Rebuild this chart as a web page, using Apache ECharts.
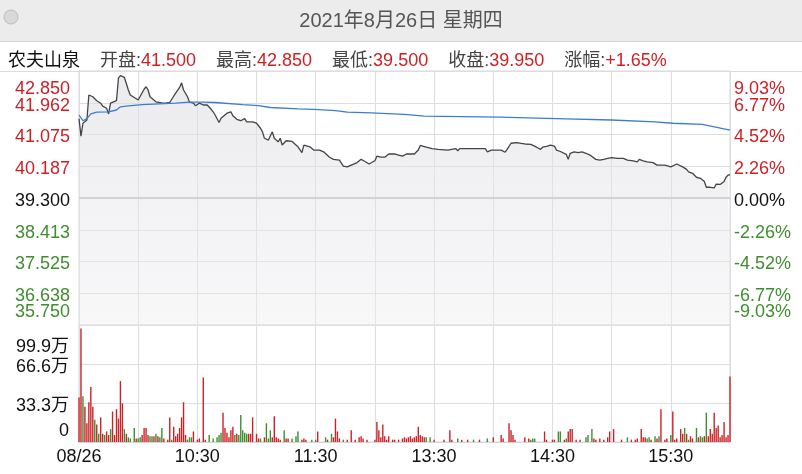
<!DOCTYPE html>
<html><head><meta charset="utf-8">
<script src="https://cdn.jsdelivr.net/npm/echarts@6/dist/echarts.min.js"></script>
<style>html,body{margin:0;padding:0;background:#fff}#c{width:802px;height:474px}</style>
</head><body><div id="c"></div>
<script>
// ---------- data ----------
const titleText = '2021年8月26日 星期四';
const stockName = '农夫山泉';
const infoLabels = ['开盘', '最高', '最低', '收盘', '涨幅'];
const infoValues = ['41.500', '42.850', '39.500', '39.950', '+1.65%'];

const xTickMinutes = [0, 60, 120, 180, 240, 300];
const xTickLabels = ['08/26', '10:30', '11:30', '13:30', '14:30', '15:30'];

const basePrice = 39.3;
const priceMin = 35.75;
const priceMax = 42.85;
const priceTickLabels = ['35.750', '36.638', '37.525', '38.413', '39.300', '40.187', '41.075', '41.962', '42.850'];
const pctTickLabels = ['-9.03%', '-6.77%', '-4.52%', '-2.26%', '0.00%', '2.26%', '4.52%', '6.77%', '9.03%'];
const volTickLabels = ['0', '33.3万', '66.6万', '99.9万'];
const volMax = 99.9;

// minutes since 09:30 (lunch break removed)
const priceMinutes = [0,1,2,4,5,6,7,9,10,11,12,13,14,15,16,17,19,20,21,22,23,24,25,26,28,30,31,33,34,35,36,37,39,40,42,43,44,45,46,47,49,51,52,53,55,56,58,59,61,63,64,65,67,68,69,71,72,73,75,77,78,79,80,81,82,84,85,86,88,90,92,93,94,96,97,98,99,101,102,103,105,106,108,109,111,113,114,115,117,119,120,122,124,125,127,129,130,132,134,136,138,139,141,143,145,147,148,150,151,153,155,157,160,162,164,166,170,172,173,174,176,179,182,183,187,188,191,192,193,206,207,209,214,216,217,219,220,222,223,224,226,227,229,230,232,234,235,237,239,241,242,244,245,247,248,249,251,253,255,257,259,260,262,264,265,266,268,269,270,273,274,276,278,279,281,283,284,286,288,289,291,293,294,295,297,300,301,303,304,306,308,309,311,313,314,315,317,318,319,320,322,323,324,325,327,328,329,330];
const priceValues = [41.52,41.03,41.39,41.48,42.18,42.21,42.13,42.02,42.00,41.95,41.87,41.92,41.81,41.65,41.95,41.99,42.02,42.65,42.72,42.70,42.67,42.50,42.32,42.18,42.11,42.04,42.09,42.34,42.41,42.32,42.13,42.10,41.99,42.02,41.96,41.97,41.95,42.00,41.97,42.06,42.23,42.39,42.52,42.32,42.13,41.98,41.95,41.88,41.95,41.90,41.85,41.90,41.78,41.71,41.62,41.41,41.53,41.50,41.67,41.71,41.60,41.62,41.50,41.53,41.46,41.52,41.43,41.46,41.43,41.39,41.25,41.15,40.97,40.92,40.90,41.15,40.97,40.87,40.97,40.78,40.90,40.92,40.88,40.83,40.73,40.57,40.78,40.75,40.73,40.64,40.63,40.64,40.59,40.55,40.44,40.38,40.43,40.36,40.19,40.17,40.22,40.20,40.29,40.38,40.32,40.25,40.22,40.34,40.47,40.44,40.44,40.53,40.53,40.50,40.47,40.53,40.53,40.64,40.77,40.74,40.72,40.68,40.66,40.64,40.64,40.68,40.68,40.62,40.68,40.68,40.59,40.64,40.64,40.58,40.66,40.83,40.80,40.85,40.80,40.83,40.81,40.85,40.80,40.83,40.72,40.66,40.72,40.74,40.78,40.75,40.64,40.60,40.62,40.52,40.38,40.55,40.59,40.57,40.59,40.55,40.50,40.48,40.38,40.36,40.34,40.38,40.41,40.38,40.43,40.41,40.36,40.41,40.36,40.38,40.34,40.31,40.38,40.34,40.31,40.34,40.29,40.22,40.26,40.22,40.22,40.17,40.22,40.25,40.27,40.17,40.10,40.03,39.99,39.88,39.92,39.85,39.76,39.60,39.57,39.60,39.58,39.69,39.66,39.68,39.76,39.88,39.94,39.95];

const avgMinutes = [0,2,4,6,9,15,19,21,24,32,49,56,63,69,83,91,97,111,119,130,136,148,165,175,213,247,270,292,301,316,330];
const avgValues = [41.62,41.46,41.52,41.65,41.70,41.71,41.76,41.85,41.87,41.91,41.95,41.98,41.98,41.97,41.91,41.88,41.83,41.79,41.78,41.74,41.70,41.68,41.64,41.59,41.56,41.51,41.48,41.43,41.39,41.36,41.20];

// volume in 万 shares; up: 1 = red, 0 = green
const volMinutes = [0,1,2,3,4,5,6,7,8,9,10,11,12,13,14,15,16,17,18,19,20,21,22,23,24,25,26,28,29,30,31,32,33,34,35,36,37,38,39,40,41,42,43,45,46,47,48,49,50,51,52,53,54,55,56,57,58,60,61,63,64,66,68,70,71,72,73,74,75,76,77,78,79,80,81,82,83,84,85,86,87,88,90,91,92,94,95,96,97,98,99,100,101,102,104,105,106,108,110,111,113,114,115,118,120,121,125,126,128,129,130,131,132,134,136,138,140,142,143,144,146,150,151,152,153,154,155,156,157,159,160,162,164,165,166,167,168,169,170,171,172,173,174,175,176,178,180,185,188,189,192,194,197,200,203,207,210,214,215,218,219,220,221,226,228,229,230,231,236,237,240,241,243,244,246,247,248,249,250,252,254,257,258,260,261,262,264,266,268,269,271,275,278,280,282,283,285,286,287,288,289,290,292,293,294,295,297,298,300,301,302,303,305,306,307,308,309,310,311,313,314,315,316,317,318,319,320,321,322,323,324,325,326,327,328,329,330];
const volValues = [38,97,39,30,16,34,47,30,19,15,7,21,7,6,9,6,11,26,6,28,20,52,33,11,7,4,3,12,3,3,4,6,12,12,6,5,5,5,7,5,4,12,3,2,21,2,13,5,7,12,21,34,6,2,4,4,9,2,3,55,2,6,3,4,6,8,25,12,8,4,10,13,6,7,6,23,10,8,7,7,7,21,7,3,3,4,16,3,10,4,22,4,3,2,10,3,3,3,5,9,2,3,2,2,2,9,4,2,7,4,20,9,3,2,2,10,2,4,5,3,2,2,17,10,4,15,5,2,5,2,2,2,3,4,3,4,5,3,4,5,13,6,5,4,4,4,2,2,10,2,3,2,2,2,2,3,4,6,3,16,10,6,2,4,3,2,3,3,9,2,2,2,9,9,2,3,9,11,11,2,2,4,6,11,3,2,3,2,4,9,11,2,4,2,2,3,11,4,4,3,4,2,5,3,5,28,2,3,6,26,2,3,11,7,12,7,2,5,3,12,4,5,4,5,25,5,11,7,25,12,14,4,6,17,4,6,56];
const volUp = [1,1,0,1,1,1,1,1,0,1,0,1,1,0,1,1,0,1,1,1,1,1,1,0,1,0,0,0,1,0,0,1,1,1,1,0,0,1,0,1,0,0,1,1,1,0,1,1,1,1,1,1,1,0,0,0,1,1,1,1,1,0,0,0,0,0,1,1,1,1,1,1,0,1,0,0,0,0,0,1,1,1,1,1,0,1,0,0,0,1,1,1,1,1,0,1,1,0,0,0,1,1,1,0,0,1,0,1,0,1,1,1,1,0,1,1,1,1,1,1,1,1,1,1,1,1,1,1,1,1,1,1,1,1,1,1,1,1,1,1,1,1,1,1,0,0,1,1,1,1,0,1,1,0,1,0,1,1,1,1,1,1,1,1,1,0,0,0,1,1,1,1,0,0,1,0,1,1,1,1,1,0,0,0,1,1,1,1,1,1,1,1,0,1,1,1,1,1,1,0,0,1,0,1,0,1,1,1,0,1,1,1,1,1,0,1,0,1,1,0,1,0,0,1,0,1,1,1,1,1,1,1,1,1,1,1,1];

// ---------- chart ----------
const RED = '#cc2226', GREEN = '#3e8e2e', FONT = '"Liberation Sans","Noto Sans CJK SC",sans-serif';
const zip = (a, b) => a.map((v, i) => [v, b[i]]);
const gridColor = '#dcdce1';

let info = `{n|${stockName}}`;
infoLabels.forEach((l, i) => { info += `{l|${l}:}{v|${infoValues[i]}}`; });

// middle labels (no extremes) and extreme labels (only first/last) on separate overlaid axes
function midLabel(arr) {
  return v => {
    const i = Math.round(v);
    if (i <= 0 || i >= arr.length - 1) return '';
    return `{${i > 4 ? 'r' : (i < 4 ? 'g' : 'k')}|${arr[i]}}`;
  };
}
function endLabel(arr) {
  return v => {
    const i = Math.round(v);
    if (i === arr.length - 1) return `{topR|${arr[i]}}`;
    if (i === 0) return `{botG|${arr[i]}}`;
    return '';
  };
}
const base = { fontSize: 18, fontFamily: FONT, fontWeight: 'normal' };
const richP = {
  r: { ...base, color: RED, padding: [6, 0, 0, 0] },
  g: { ...base, color: GREEN, padding: [6, 0, 0, 0] },
  k: { ...base, color: '#111', padding: [6, 0, 0, 0] },
  topR: { ...base, color: RED, padding: [36, 0, 0, 0] },
  botG: { ...base, color: GREEN, padding: [0, 0, 26, 0] }
};
function labelAxis(arr, position, margin, mid) {
  return { type: 'value', gridIndex: 0, min: 0, max: arr.length - 1, interval: 1, position: position, offset: 0,
    axisLine: { show: false }, axisTick: { show: false },
    axisLabel: { margin: margin, showMinLabel: true, showMaxLabel: true, hideOverlap: false,
      formatter: mid ? midLabel(arr) : endLabel(arr), rich: richP },
    splitLine: { show: mid && position === 'left', lineStyle: { color: gridColor, width: 1 } } };
}

const chart = echarts.init(document.getElementById('c'), null, { renderer: 'canvas' });
chart.setOption({
  animation: false,
  backgroundColor: '#ffffff',
  graphic: [
    { type: 'rect', shape: { x: 0, y: 0, width: 802, height: 41 }, style: { fill: '#ececec' }, z: -10 },
    { type: 'line', shape: { x1: 0, y1: 41.5, x2: 802, y2: 41.5 }, style: { stroke: '#d4d4d4', lineWidth: 1 } },
    { type: 'line', shape: { x1: 0, y1: 71.5, x2: 802, y2: 71.5 }, style: { stroke: '#dcdcdf', lineWidth: 1 } },
    { type: 'circle', shape: { cx: 11, cy: 17, r: 7 }, style: { fill: '#d9d9d9', stroke: '#bcbcbc', lineWidth: 1 } }
  ],
  title: [
    { text: titleText, left: 'center', top: 6, textStyle: { fontSize: 20, color: '#555', fontWeight: 'normal', fontFamily: FONT } },
    { text: info, left: 3, top: 47, textStyle: { fontWeight: 'normal', rich: {
        n: { ...base, color: '#111', padding: [0, 20, 0, 0] },
        l: { ...base, color: '#444' },
        v: { ...base, color: RED, padding: [0, 20, 0, 0] }
    } } }
  ],
  grid: [
    { left: 79, width: 651, top: 71, height: 254, show: true, borderColor: '#d6d6da', borderWidth: 1, backgroundColor: 'transparent' },
    { left: 79, width: 651, top: 325, height: 117, show: true, borderColor: '#d6d6da', borderWidth: 1, backgroundColor: 'transparent' }
  ],
  xAxis: [
    { type: 'value', gridIndex: 0, min: 0, max: 330, interval: 30,
      axisLine: { show: false }, axisTick: { show: false }, axisLabel: { show: false },
      splitLine: { show: true, lineStyle: { color: gridColor, width: 1 } } },
    { type: 'value', gridIndex: 1, min: 0, max: 330, interval: 30,
      axisLine: { show: true, lineStyle: { color: '#d6d6da', width: 1 } }, axisTick: { show: false },
      axisLabel: { show: true, margin: 6, fontSize: 18, color: '#111', fontFamily: FONT,
        formatter: v => { const i = xTickMinutes.indexOf(Math.round(v)); return i >= 0 ? xTickLabels[i] : ''; } },
      splitLine: { show: true, lineStyle: { color: gridColor, width: 1 } } }
  ],
  yAxis: [
    { type: 'value', gridIndex: 0, min: priceMin, max: priceMax, show: false, splitLine: { show: false } },
    labelAxis(priceTickLabels, 'left', 9, true),
    labelAxis(priceTickLabels, 'left', 9, false),
    labelAxis(pctTickLabels, 'right', 4, true),
    labelAxis(pctTickLabels, 'right', 4, false),
    { type: 'value', gridIndex: 1, min: 0, max: volMax, interval: 33.3, position: 'left',
      axisLine: { show: false }, axisTick: { show: false },
      axisLabel: { margin: 10, showMinLabel: true, showMaxLabel: true, hideOverlap: false,
        formatter: v => { const i = Math.round(v / 33.3); const s = volTickLabels[i];
          return i === volTickLabels.length - 1 ? `{t|${s}}` : (i === 0 ? `{b|${s}}` : `{k|${s}}`); },
        rich: {
          k: { ...base, color: '#111', padding: [7, 0, 0, 0] },
          t: { ...base, color: '#111', padding: [44, 0, 0, 0] },
          b: { ...base, color: '#111', padding: [0, 0, 22, 0] }
        } },
      splitLine: { show: true, lineStyle: { color: gridColor, width: 1 } } }
  ],
  series: [
    { type: 'line', name: 'price', xAxisIndex: 0, yAxisIndex: 0, data: zip(priceMinutes, priceValues),
      symbol: 'none', lineStyle: { color: '#444444', width: 1.3 },
      areaStyle: { origin: 'start', color: new echarts.graphic.LinearGradient(0, 0, 0, 1, [
        { offset: 0, color: 'rgba(222,222,226,0.85)' }, { offset: 1, color: 'rgba(238,238,241,0.6)' }]) },
      markLine: { silent: true, symbol: 'none', label: { show: false },
        lineStyle: { color: '#d2d2d6', width: 2, type: 'solid' }, data: [{ yAxis: basePrice }] },
      z: 3 },
    { type: 'line', name: 'avg', xAxisIndex: 0, yAxisIndex: 0, data: zip(avgMinutes, avgValues),
      symbol: 'none', lineStyle: { color: '#3c7dd3', width: 1.3 }, z: 4 },
    { type: 'bar', name: 'vol', xAxisIndex: 1, yAxisIndex: 5, barWidth: 1.4,
      data: volMinutes.map((m, i) => ({ value: [m, volValues[i]], itemStyle: { color: volUp[i] ? RED : GREEN } })) }
  ]
});
</script>
</body></html>
